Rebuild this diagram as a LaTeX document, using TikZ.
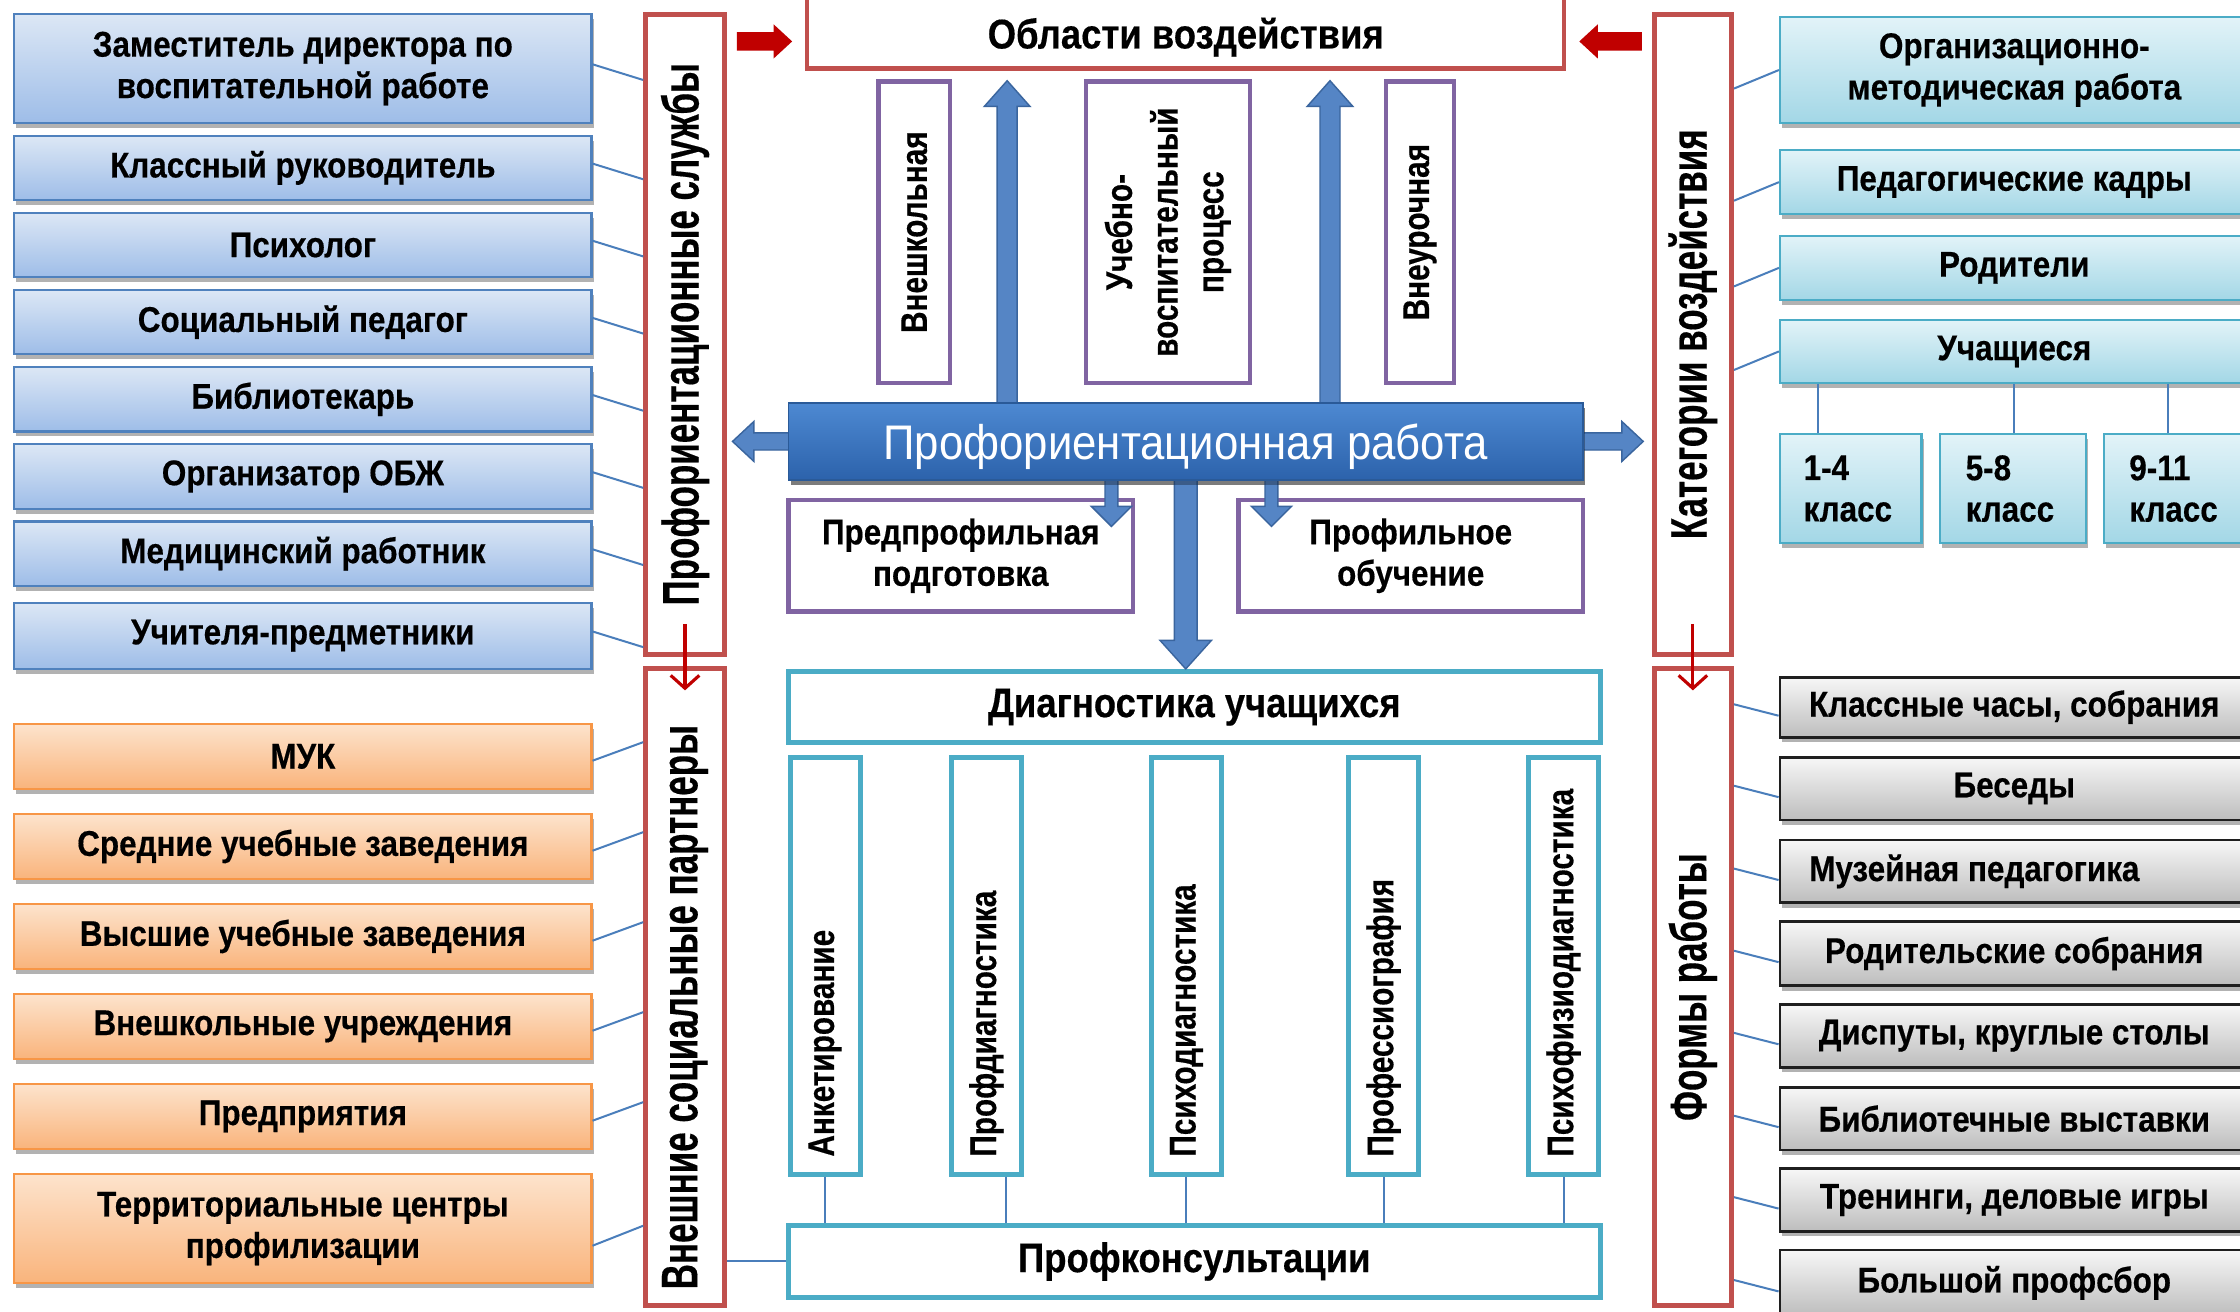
\documentclass[tikz,border=0pt]{standalone}
\usepackage{fontspec}
\setmainfont{Liberation Sans}
\newfontfamily\boxf[FakeStretch=0.88,BoldFeatures={FakeBold=0.4}]{Liberation Sans}
\newfontfamily\rotf[FakeStretch=0.68,BoldFeatures={FakeBold=0.3}]{Liberation Sans}
\newfontfamily\inrotf[FakeStretch=0.8,BoldFeatures={FakeBold=0.4}]{Liberation Sans}
\newfontfamily\barf[FakeStretch=0.9]{Liberation Sans}
\usetikzlibrary{calc,shadows,arrows.meta}
\definecolor{bluT}{HTML}{DCE7F5}
\definecolor{bluB}{HTML}{9EBDE8}
\definecolor{bluD}{HTML}{4F81BD}
\definecolor{orT}{HTML}{FDE3CC}
\definecolor{orB}{HTML}{F9B47C}
\definecolor{orD}{HTML}{F79646}
\definecolor{cyT}{HTML}{E2F3F8}
\definecolor{cyB}{HTML}{A3D7E6}
\definecolor{cyD}{HTML}{4BACC6}
\definecolor{grT}{HTML}{F7F7F7}
\definecolor{grB}{HTML}{BDBDBD}
\definecolor{grD}{HTML}{1F1F1F}
\definecolor{redD}{HTML}{C0504D}
\definecolor{purD}{HTML}{8064A2}
\definecolor{arrR}{HTML}{C00000}
\definecolor{barT}{HTML}{4D89D2}
\definecolor{barB}{HTML}{2C62AB}
\definecolor{barD}{HTML}{2A5A98}
\definecolor{arrF}{HTML}{5585C5}
\definecolor{arrD}{HTML}{3A659E}
\definecolor{connC}{HTML}{4A7EBB}
% block arrow: #1 style, #2 from, #3 to, #4 half shaft, #5 half head, #6 head length
\newcommand\blkarr[6]{%
  \path[#1] let \p1=#2, \p2=#3, \n1={atan2(\y2-\y1,\x2-\x1)}, \n2={veclen(\x2-\x1,\y2-\y1)} in
   ($(\p1)+(\n1+90:#4)$) -- ($(\p1)+(\n1:\n2-#6)+(\n1+90:#4)$) -- ($(\p1)+(\n1:\n2-#6)+(\n1+90:#5)$)
   -- (\p2) -- ($(\p1)+(\n1:\n2-#6)+(\n1-90:#5)$) -- ($(\p1)+(\n1:\n2-#6)+(\n1-90:#4)$)
   -- ($(\p1)+(\n1-90:#4)$) -- cycle;}
% box from corners: #1 style, #2 name, #3 x1, #4 y1 (down), #5 x2, #6 y2 (down), #7 text
\newcommand\bx[7]{\node[#1,minimum width={(#5-#3)*1pt},minimum height={(#6-#4)*1pt}] (#2) at ({(#3+#5)/2},{-(#4+#6)/2}) {#7};}
\tikzset{
 shad/.style={drop shadow={shadow xshift=1.5pt,shadow yshift=-3.5pt,opacity=0.3,fill=black}},
 gbox/.style={rectangle,inner sep=0pt,align=center,text=black,font=\boxf\bfseries\fontsize{25}{29}\selectfont},
 bluebox/.style={gbox,shad,draw=bluD,line width=1.5pt,top color=bluT,bottom color=bluB},
 orbox/.style={gbox,shad,draw=orD,line width=1.5pt,top color=orT,bottom color=orB},
 cybox/.style={gbox,shad,draw=cyD,line width=1.5pt,top color=cyT,bottom color=cyB},
 grbox/.style={gbox,shad,draw=grD,line width=2pt,top color=grT,bottom color=grB},
 redbox/.style={rectangle,inner sep=0pt,draw=redD,line width=3.5pt,fill=white},
 purbox/.style={gbox,draw=purD,line width=3pt,fill=white},
 tealbox/.style={gbox,draw=cyD,line width=3.5pt,fill=white},
 bigtxt/.style={font=\boxf\bfseries\fontsize{29}{33}\selectfont},
 barbox/.style={rectangle,inner sep=0pt,shad,draw=barD,line width=1pt,top color=barT,bottom color=barB},
 bartxt/.style={inner sep=0pt,text=white,font=\barf\fontsize{34}{40}\selectfont},
 redlbl/.style={rotate=90,inner sep=0pt,font=\rotf\bfseries\fontsize{36}{40}\selectfont},
 inlbl/.style={rotate=90,inner sep=0pt,align=center,font=\inrotf\bfseries\fontsize{26}{32}\selectfont},
 conn/.style={draw=connC,line width=1.4pt},
 bluarrow/.style={fill=arrF,draw=arrD,line width=1pt},
 redarrow/.style={fill=arrR},
 thinred/.style={draw=arrR,line width=2.2pt,-{Straight Barb[length=9pt,width=20pt]}},
}
\begin{document}
\begin{tikzpicture}[x=1pt,y=1pt]
\useasboundingbox (0,0) rectangle (1568,-918);
\fill[white] (0,0) rectangle (1568,-918);

% ---------- left: services ----------
\bx{bluebox}{b1}{10}{10}{414}{86}{Заместитель директора по\\воспитательной работе}
\bx{bluebox}{b2}{10}{95}{414}{140}{Классный руководитель}
\bx{bluebox}{b3}{10}{149}{414}{194}{Психолог}
\bx{bluebox}{b4}{10}{203}{414}{248}{Социальный педагог}
\bx{bluebox}{b5}{10}{257}{414}{302}{Библиотекарь}
\bx{bluebox}{b6}{10}{311}{414}{356}{Организатор ОБЖ}
\bx{bluebox}{b7}{10}{365}{414}{410}{Медицинский работник}
\bx{bluebox}{b8}{10}{422}{414}{468}{Учителя-предметники}

% ---------- left: partners ----------
\bx{orbox}{o1}{10}{507}{414}{552}{МУК}
\bx{orbox}{o2}{10}{570}{414}{615}{Средние учебные заведения}
\bx{orbox}{o3}{10}{633}{414}{678}{Высшие учебные заведения}
\bx{orbox}{o4}{10}{696}{414}{741}{Внешкольные учреждения}
\bx{orbox}{o5}{10}{759}{414}{804}{Предприятия}
\bx{orbox}{o6}{10}{822}{414}{898}{Территориальные центры\\профилизации}

% ---------- red columns ----------
\bx{redbox}{ps}{452}{10}{507}{458}{}
\bx{redbox}{sp}{452}{468}{507}{914}{}
\bx{redbox}{kv}{1158}{10}{1212}{458}{}
\bx{redbox}{fr}{1158}{468}{1212}{914}{}
\node[redlbl] (psl) at (ps.center) {Профориентационные службы};
\node[redlbl] (spl) at ($(sp.center)+(0,-14)$) {Внешние социальные партнеры};
\node[redlbl] (kvl) at (kv.center) {Категории воздействия};
\node[redlbl] (frl) at (fr.center) {Формы работы};

% ---------- centre ----------
\bx{redbox,line width=3pt}{obl}{565}{-12}{1095}{48}{}
\node[gbox,bigtxt] (oblt) at (830,-26) {Области воздействия};
\bx{purbox}{p1}{615}{57}{665}{268}{}
\bx{purbox}{p2}{760}{57}{875}{268}{}
\bx{purbox}{p3}{970}{57}{1018}{268}{}
\node[inlbl] (p1l) at (p1.center) {Внешкольная};
\node[inlbl] (p2l) at (p2.center) {Учебно-\\воспитательный\\процесс};
\node[inlbl] (p3l) at (p3.center) {Внеурочная};

\bx{purbox}{pp}{552}{350}{793}{428}{Предпрофильная\\подготовка}
\bx{purbox}{pf}{867}{350}{1108}{428}{Профильное\\обучение}

\bx{tealbox,bigtxt}{diag}{552}{470}{1120}{520}{Диагностика учащихся}
\bx{tealbox}{v1}{553}{530}{602}{822}{}
\bx{tealbox}{v2}{666}{530}{715}{822}{}
\bx{tealbox}{v3}{806}{530}{855}{822}{}
\bx{tealbox}{v4}{944}{530}{993}{822}{}
\bx{tealbox}{v5}{1070}{530}{1119}{822}{}
\node[inlbl,anchor=west] (t1) at ($(v1.south)+(0,14)$) {Анкетирование};
\node[inlbl,anchor=west] (t2) at ($(v2.south)+(0,14)$) {Профдиагностика};
\node[inlbl,anchor=west] (t3) at ($(v3.south)+(0,14)$) {Психодиагностика};
\node[inlbl,anchor=west] (t4) at ($(v4.south)+(0,14)$) {Профессиография};
\node[inlbl,anchor=west] (t5) at ($(v5.south)+(0,14)$) {Психофизиодиагностика};
\bx{tealbox,bigtxt}{pk}{552}{858}{1120}{908}{Профконсультации}

% block arrows
\coordinate (ry) at (0,-29);
\coordinate (ux1) at (705,0);
\coordinate (ux2) at (931,0);
\coordinate (dx0) at (830,0);
\coordinate (dx1) at (778,0);
\coordinate (dx2) at (890,0);
\blkarr{redarrow}{($(ps.east |- ry)+(7,0)$)}{($(obl.west |- ry)+(-9,0)$)}{6.5}{12}{13}
\blkarr{redarrow}{($(kv.west |- ry)+(-7,0)$)}{($(obl.east |- ry)+(9,0)$)}{6.5}{12}{13}
\bx{barbox}{bar}{552}{282}{1108}{336}{}
\blkarr{bluarrow}{($(ux1 |- bar.north)+(0,-4)$)}{($(ux1 |- obl.south)+(0,-7)$)}{7}{16}{18}
\blkarr{bluarrow}{($(ux2 |- bar.north)+(0,-4)$)}{($(ux2 |- obl.south)+(0,-7)$)}{7}{16}{18}
\blkarr{bluarrow}{($(bar.west)+(4,0)$)}{($(bar.west -| ps.east)+(4,0)$)}{6}{14}{15}
\blkarr{bluarrow}{($(bar.east)+(-4,0)$)}{($(bar.east -| kv.west)+(-6,0)$)}{6}{14}{15}
\blkarr{bluarrow}{($(dx1 |- bar.south)+(0,4)$)}{($(dx1 |- pp.north)+(0,-20)$)}{4.5}{14}{14}
\blkarr{bluarrow}{($(dx2 |- bar.south)+(0,4)$)}{($(dx2 |- pf.north)+(0,-20)$)}{4.5}{14}{14}
\blkarr{bluarrow}{($(dx0 |- bar.south)+(0,4)$)}{(dx0 |- diag.north)}{8}{18}{20}
\bx{barbox}{bar2}{552}{282}{1108}{336}{}
\node[bartxt] (barl) at ($(bar2.center)+(0,-4)$) {Профориентационная работа};

% ---------- right: categories ----------
\bx{cybox}{c1}{1246}{12}{1574}{86}{Организационно-\\методическая работа}
\bx{cybox}{c2}{1246}{105}{1574}{150}{Педагогические кадры}
\bx{cybox}{c3}{1246}{165}{1574}{210}{Родители}
\bx{cybox}{c4}{1246}{224}{1574}{268}{Учащиеся}
\bx{cybox,text width=66pt,align=left}{k1}{1246}{304}{1345}{380}{1-4\\класс}
\bx{cybox,text width=66pt,align=left}{k2}{1358}{304}{1460}{380}{5-8\\класс}
\bx{cybox,text width=66pt,align=left}{k3}{1473}{304}{1574}{380}{9-11\\класс}

% ---------- right: forms ----------
\bx{grbox}{g1}{1246}{474}{1574}{516}{Классные часы, собрания}
\bx{grbox}{g2}{1246}{530}{1574}{574}{Беседы}
\bx{grbox}{g3}{1246}{588}{1574}{632}{Музейная педагогика\kern56pt}
\bx{grbox}{g4}{1246}{645}{1574}{690}{Родительские собрания}
\bx{grbox}{g5}{1246}{703}{1574}{747}{Диспуты, круглые столы}
\bx{grbox}{g6}{1246}{761}{1574}{805}{Библиотечные выставки}
\bx{grbox}{g7}{1246}{818}{1574}{862}{Тренинги, деловые игры}
\bx{grbox}{g8}{1246}{875}{1574}{921}{Большой профсбор}

% ---------- connectors ----------
\foreach \n in {b1,b2,b3,b4,b5,b6,b7,b8}
  \draw[conn] ($(\n.east)+(0,3)$) -- ($(\n.east -| ps.west)+(0,-8)$);
\foreach \n in {o1,o2,o3,o4,o5}
  \draw[conn] ($(\n.east)+(0,-3)$) -- ($(\n.east -| sp.west)+(0,10)$);
\draw[conn] ($(o6.east)+(0,-12)$) -- ($(o6.east -| sp.west)+(0,2)$);
\foreach \n in {c1,c2,c3,c4}
  \draw[conn] ($(\n.west -| kv.east)+(0,-13)$) -- (\n.west);
\foreach \n in {g1,g2,g3,g4,g5,g6,g7,g8}
  \draw[conn] ($(\n.west -| fr.east)+(0,2)$) -- ($(\n.west)+(0,-6)$);
\draw[conn] ($(k1.north)+(-23,0)$) -- ($(k1.north |- c4.south)+(-23,0)$);
\draw[conn] ($(k2.north)+(1,0)$) -- ($(k2.north |- c4.south)+(1,0)$);
\draw[conn] ($(k3.north)+(-6,0)$) -- ($(k3.north |- c4.south)+(-6,0)$);
\foreach \n/\dx in {v1/0,v2/14,v3/0,v4/0,v5/0}
  \draw[conn] ($(\n.south)+(\dx,0)$) -- ($(\n.south |- pk.north)+(\dx,0)$);
\draw[conn] (pk.west -| sp.east) -- (pk.west);

% thin red arrows
\draw[thinred] ($(ps.south)+(0,23)$) -- ($(sp.north)+(0,-17)$);
\draw[thinred] ($(kv.south)+(0,23)$) -- ($(fr.north)+(0,-17)$);
\end{tikzpicture}
\end{document}
